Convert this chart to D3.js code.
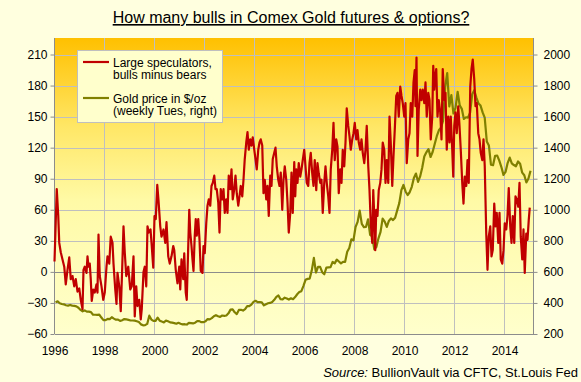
<!DOCTYPE html>
<html>
<head>
<meta charset="utf-8">
<script src="https://cdn.jsdelivr.net/npm/d3@7"></script>
<style>
body { margin: 0; background: #FFFFDF; }
text { font-family: "Liberation Sans", Arial, sans-serif; fill: #000; }
</style>
</head>
<body>
<div id="chart"></div>
<script>

// large speculators, bulls minus bears ('000 contracts), [decimal year, value]
var specNet = [
[1996.00,10],[1996.09,80],[1996.15,54],[1996.19,28],[1996.25,19],[1996.32,12],[1996.39,5],[1996.45,-12],[1996.52,2],[1996.59,14],[1996.65,-7],[1996.72,-4],[1996.79,-14],[1996.85,-7],[1996.92,-19],[1996.99,-16],
[1997.05,-27],[1997.12,-36],[1997.16,2],[1997.21,5],[1997.28,-1],[1997.32,15],[1997.36,5],[1997.41,8],[1997.45,-7],[1997.49,-28],[1997.55,-17],[1997.61,-20],[1997.68,-12],[1997.72,-20],[1997.76,36],[1997.81,-4],[1997.88,-14],[1997.95,-27],
[1998.01,-20],[1998.08,5],[1998.12,15],[1998.19,8],[1998.25,34],[1998.32,28],[1998.36,8],[1998.43,-17],[1998.48,-31],[1998.52,-1],[1998.59,-14],[1998.65,-38],[1998.71,5],[1998.76,44],[1998.81,19],[1998.87,-4],[1998.95,5],
[1999.03,-17],[1999.09,-14],[1999.16,15],[1999.21,-43],[1999.27,-14],[1999.32,-33],[1999.39,-27],[1999.45,-46],[1999.49,-36],[1999.56,0],[1999.61,5],[1999.67,-14],[1999.72,44],[1999.77,38],[1999.84,41],[1999.89,25],[1999.95,4],
[2000.00,54],[2000.05,51],[2000.11,84],[2000.16,69],[2000.23,44],[2000.28,34],[2000.36,41],[2000.43,28],[2000.48,48],[2000.55,15],[2000.61,8],[2000.68,15],[2000.75,25],[2000.79,21],[2000.85,2],[2000.92,-11],[2000.99,5],
[2001.03,-17],[2001.08,12],[2001.15,-7],[2001.19,18],[2001.25,-20],[2001.29,-27],[2001.35,25],[2001.39,60],[2001.43,38],[2001.48,25],[2001.52,12],[2001.56,1],[2001.61,35],[2001.65,51],[2001.69,35],[2001.75,51],[2001.80,31],[2001.85,1],[2001.92,-1],[2001.96,25],
[2002.01,18],[2002.07,47],[2002.12,64],[2002.17,70],[2002.23,64],[2002.28,83],[2002.33,86],[2002.39,93],[2002.44,80],[2002.49,80],[2002.55,67],[2002.60,38],[2002.65,80],[2002.71,70],[2002.76,80],[2002.81,57],[2002.87,70],[2002.92,57],[2002.97,93],
[2003.03,80],[2003.08,99],[2003.13,70],[2003.19,80],[2003.24,93],[2003.29,76],[2003.35,64],[2003.40,73],[2003.45,83],[2003.51,73],[2003.56,89],[2003.61,109],[2003.67,125],[2003.72,135],[2003.77,118],[2003.83,128],[2003.88,122],[2003.93,130],[2003.99,118],
[2004.04,109],[2004.09,99],[2004.15,118],[2004.20,125],[2004.25,128],[2004.31,122],[2004.36,76],[2004.41,89],[2004.47,70],[2004.52,83],[2004.57,54],[2004.63,93],[2004.68,83],[2004.73,109],[2004.79,115],[2004.84,120],[2004.89,102],[2004.95,89],
[2005.00,83],[2005.05,96],[2005.11,60],[2005.16,89],[2005.21,102],[2005.27,89],[2005.32,67],[2005.37,38],[2005.43,57],[2005.48,96],[2005.53,57],[2005.59,106],[2005.63,73],[2005.67,99],[2005.72,86],[2005.77,105],[2005.83,92],[2005.88,99],[2005.93,108],[2005.99,118],
[2006.04,102],[2006.09,86],[2006.15,83],[2006.20,105],[2006.25,115],[2006.31,95],[2006.36,83],[2006.41,108],[2006.47,79],[2006.52,105],[2006.57,95],[2006.63,86],[2006.68,89],[2006.73,57],[2006.79,86],[2006.84,102],[2006.89,86],[2006.95,73],
[2007.00,57],[2007.05,99],[2007.11,118],[2007.16,144],[2007.21,108],[2007.27,128],[2007.32,121],[2007.37,76],[2007.43,99],[2007.48,86],[2007.53,118],[2007.59,102],[2007.64,125],[2007.69,158],[2007.75,141],[2007.80,131],[2007.85,118],[2007.91,128],[2007.96,134],
[2008.01,144],[2008.07,128],[2008.12,137],[2008.17,125],[2008.23,118],[2008.28,128],[2008.33,115],[2008.39,105],[2008.44,118],[2008.49,141],[2008.55,102],[2008.60,79],[2008.65,47],[2008.71,28],[2008.75,79],[2008.79,54],[2008.83,21],[2008.87,60],[2008.92,54],[2008.97,79],
[2009.03,86],[2009.08,99],[2009.13,125],[2009.19,118],[2009.24,86],[2009.29,108],[2009.35,86],[2009.40,150],[2009.45,125],[2009.51,83],[2009.56,112],[2009.61,137],[2009.67,170],[2009.72,173],[2009.77,150],[2009.83,179],[2009.88,170],[2009.93,163],[2009.99,150],
[2010.04,163],[2010.09,105],[2010.15,128],[2010.20,134],[2010.25,163],[2010.31,150],[2010.36,183],[2010.41,195],[2010.44,160],[2010.48,207],[2010.52,112],[2010.57,157],[2010.63,176],[2010.68,166],[2010.73,176],[2010.79,163],[2010.84,183],[2010.89,150],[2010.95,173],
[2011.00,166],[2011.05,128],[2011.11,150],[2011.15,199],[2011.19,176],[2011.23,189],[2011.27,196],[2011.32,150],[2011.37,166],[2011.43,154],[2011.48,128],[2011.53,196],[2011.59,166],[2011.64,173],[2011.69,118],[2011.75,150],[2011.80,125],[2011.85,150],[2011.91,118],[2011.95,92],[2011.99,141],
[2012.04,154],[2012.09,134],[2012.15,160],[2012.20,141],[2012.25,118],[2012.31,86],[2012.36,66],[2012.41,92],[2012.47,83],[2012.52,108],[2012.57,86],[2012.63,179],[2012.68,196],[2012.73,205],[2012.79,186],[2012.84,160],[2012.89,163],[2012.95,134],
[2013.00,128],[2013.05,115],[2013.11,108],[2013.16,128],[2013.21,102],[2013.27,37],[2013.32,2],[2013.37,34],[2013.43,44],[2013.48,15],[2013.53,21],[2013.59,66],[2013.64,44],[2013.69,57],[2013.75,28],[2013.80,57],[2013.85,12],[2013.91,8],[2013.96,21],
[2014.01,47],[2014.07,41],[2014.12,54],[2014.17,81],[2014.23,44],[2014.28,28],[2014.33,54],[2014.39,28],[2014.44,73],[2014.49,70],[2014.55,63],[2014.60,86],[2014.65,34],[2014.71,12],[2014.76,41],[2014.81,-1],[2014.87,37],[2014.92,31],[2014.97,50],[2015.01,62]
];

// gold price $/oz, one value per month from Jan 1996
var goldStart = 1996;
var goldPrice = [
405,410,398,393,391,385,383,387,383,381,378,369,
355,346,352,344,344,341,324,324,323,325,306,289,
289,297,296,308,299,292,293,284,289,296,294,291,
287,287,286,282,277,262,256,257,265,318,293,284,
284,305,286,280,275,286,282,275,273,270,266,272,
266,262,263,261,272,270,268,273,283,283,276,276,
282,296,294,302,314,321,314,310,319,317,319,333,
357,359,340,328,355,356,351,360,379,379,389,407,
414,405,406,404,384,392,398,400,406,420,439,448,
424,423,434,429,422,430,424,438,456,470,476,510,
549,555,557,610,690,596,633,632,598,585,627,629,
631,664,655,679,667,655,665,665,730,754,810,803,
889,922,995,909,888,889,939,839,829,745,760,816,
858,943,924,890,928,945,934,949,996,1043,1127,1160,
1118,1095,1113,1148,1205,1233,1180,1215,1271,1343,1370,1391,
1340,1372,1424,1474,1512,1529,1572,1790,1880,1665,1739,1620,
1656,1760,1673,1650,1585,1596,1594,1626,1744,1770,1722,1685,
1671,1627,1593,1440,1414,1290,1287,1348,1349,1316,1275,1225,
1244,1301,1336,1299,1288,1280,1311,1296,1239,1222,1176,1201,
1251
];

var leftTicks = [-60,-30,0,30,60,90,120,150,180,210];
var rightTicks = [200,400,600,800,1000,1200,1400,1600,1800,2000];
var yearTicks = [1996,1998,2000,2002,2004,2006,2008,2010,2012,2014];

var W = 581, H = 382;
var plot = {left: 54.5, right: 533.5, top: 38, bottom: 334};

var svg = d3.select('#chart')
  .append('svg')
  .attr("width", W)
  .attr("height", H);

var x = d3.scaleLinear().domain([1996, 2015.16]).range([plot.left, plot.right]);
var yL = d3.scaleLinear().domain([-60, 210]).range([plot.bottom, 54.5]);
var yR = d3.scaleLinear().domain([200, 2000]).range([plot.bottom, 54.5]);

// plot background
var grad = svg.append('defs').append('linearGradient')
  .attr('id', 'bg').attr('x1', 0).attr('y1', 0).attr('x2', 0).attr('y2', 1);
grad.append('stop').attr('offset', '0%').attr('stop-color', '#FFC000');
grad.append('stop').attr('offset', '30%').attr('stop-color', '#FFE766');
grad.append('stop').attr('offset', '55%').attr('stop-color', '#FFFAA6');
grad.append('stop').attr('offset', '100%').attr('stop-color', '#FFFFCC');

svg.append('rect')
  .attr('x', plot.left).attr('y', plot.top)
  .attr('width', plot.right - plot.left).attr('height', plot.bottom - plot.top)
  .attr('fill', 'url(#bg)');

// grid
svg.append('g').selectAll('line')
  .data(leftTicks.filter(d => d != -60 && d != 0))
  .enter().append('line')
  .attr('x1', plot.left).attr('x2', plot.right)
  .attr('y1', d => Math.round(yL(d)) + 0.5).attr('y2', d => Math.round(yL(d)) + 0.5)
  .style('stroke', '#BFBFBF');

svg.append('g').selectAll('line')
  .data(yearTicks.slice(1))
  .enter().append('line')
  .attr('x1', d => Math.round(x(d)) + 0.5).attr('x2', d => Math.round(x(d)) + 0.5)
  .attr('y1', plot.top).attr('y2', plot.bottom)
  .style('stroke', '#BFBFBF');

svg.append('line')
  .attr('x1', plot.left).attr('x2', plot.right)
  .attr('y1', Math.round(yL(0)) + 0.5).attr('y2', Math.round(yL(0)) + 0.5)
  .style('stroke', '#8C8C8C');

// axes
var leftAxis = d3.axisLeft(yL).tickValues(leftTicks).tickSize(4).tickPadding(3);
var rightAxis = d3.axisRight(yR).tickValues(rightTicks).tickSize(4).tickPadding(6).tickFormat(d3.format('d'));
var bottomAxis = d3.axisBottom(x).tickValues(yearTicks).tickSize(0).tickPadding(12).tickFormat(d3.format('d'));

function styleAxis(g) {
  g.select('.domain').style('stroke', '#8C8C8C');
  g.selectAll('.tick line').style('stroke', '#8C8C8C');
  g.selectAll('text').style('font-size', '12px').style('font-family', '"Liberation Sans", Arial, sans-serif').attr('fill', '#000');
}

svg.append('g').attr('transform', 'translate(' + plot.left + ',0)').call(leftAxis).call(styleAxis)
  .select('.domain').attr('d', 'M0,' + plot.top + 'V' + plot.bottom);
svg.append('g').attr('transform', 'translate(' + plot.right + ',0)').call(rightAxis).call(styleAxis)
  .select('.domain').attr('d', 'M0,' + plot.top + 'V' + plot.bottom);
svg.append('g').attr('transform', 'translate(0,' + plot.bottom + ')').call(bottomAxis).call(styleAxis);

// series
var goldData = goldPrice.map((p, i) => [goldStart + (i + 0.5) / 12, p]);

svg.append('path')
  .datum(goldData)
  .attr('d', d3.line().x(d => x(d[0])).y(d => yR(d[1])))
  .style('fill', 'none')
  .style('stroke', '#808000')
  .style('stroke-width', 2.2)
  .style('stroke-linejoin', 'round');

svg.append('path')
  .datum(specNet)
  .attr('d', d3.line().x(d => x(d[0])).y(d => yL(d[1])))
  .style('fill', 'none')
  .style('stroke', '#C00000')
  .style('stroke-width', 2.2)
  .style('stroke-linejoin', 'round');

// legend
var lg = svg.append('g');
lg.append('rect')
  .attr('x', 77.5).attr('y', 50.5).attr('width', 145).attr('height', 72)
  .style('fill', '#FFFFCC').style('stroke', '#BFBFBF');

lg.append('line').attr('x1', 83).attr('x2', 109).attr('y1', 62).attr('y2', 62)
  .style('stroke', '#C00000').style('stroke-width', 2.2);
lg.append('line').attr('x1', 83).attr('x2', 109).attr('y1', 98).attr('y2', 98)
  .style('stroke', '#808000').style('stroke-width', 2.2);

var legendText = [["Large speculators,", 66.5], ["bulls minus bears", 79], ["Gold price in $/oz", 102.5], ["(weekly Tues, right)", 115]];
lg.selectAll('text.lt')
  .data(legendText)
  .enter().append('text')
  .attr('class', 'lt')
  .attr('x', 113).attr('y', d => d[1])
  .style('font-size', '12px')
  .text(d => d[0]);

// title
svg.append('text')
  .attr('x', 291).attr('y', 23)
  .attr('text-anchor', 'middle')
  .style('font-size', '16px')
  .style('text-decoration', 'underline')
  .text("How many bulls in Comex Gold futures & options?");

// source
var src = svg.append('text')
  .attr('x', 578).attr('y', 377)
  .attr('text-anchor', 'end')
  .style('font-size', '13px');
src.append('tspan').style('font-style', 'italic').text('Source:');
src.append('tspan').text(' BullionVault via CFTC, St.Louis Fed');

</script>
</body>
</html>
